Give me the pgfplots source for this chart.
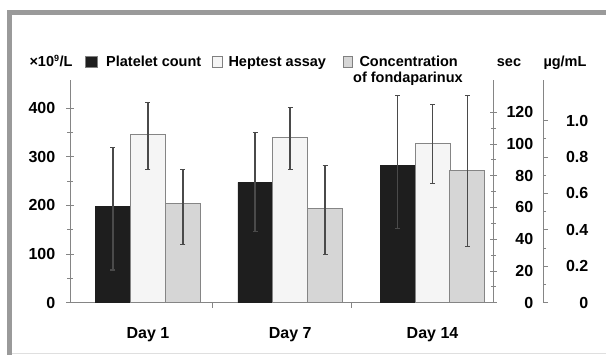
\documentclass[border=0pt]{standalone}
\usepackage{fontspec}
\setmainfont{Liberation Sans}
\usepackage{pgfplots}
\pgfplotsset{compat=1.18}
\definecolor{framegray}{HTML}{9A9A9A}
\definecolor{axgray}{HTML}{858585}
\definecolor{errgray}{HTML}{4A4A4A}
\definecolor{barblack}{HTML}{1E1E1E}
\definecolor{heplight}{HTML}{F5F5F5}
\definecolor{fondgray}{HTML}{D6D6D6}
\newcommand{\lgfont}{\fontsize{14.5}{14.5}\selectfont\bfseries}
\pgfplotsset{
  base/.style={
    scale only axis, width=423pt, height=222.7pt,
    at={(70pt,52.3pt)}, anchor=south west,
    xmin=0.452, xmax=3.425, ymin=0,
    axis line style={axgray, line width=1pt},
    tick style={axgray, line width=0.8pt},
    tick align=center, major tick length=7pt, minor tick length=5pt,
    ticklabel style={font=\fontsize{16}{16}\selectfont\bfseries},
    /pgf/number format/assume math mode=true,
    ybar, bar width=35pt,
    error bars/y dir=both, error bars/y explicit,
    error bars/error bar style={errgray, line width=1.8pt},
    error bars/error mark options={rotate=90, errgray, line width=1.2pt, mark size=2.5pt},
  }
}
\begin{document}
\begin{tikzpicture}[x=1pt,y=1pt]
\useasboundingbox (0,0) rectangle (606,355);
\fill[white] (0,0) rectangle (606,355);
\fill[framegray] (7,340) rectangle (606,345);
\fill[framegray] (7,0) rectangle (12,345);
\draw[gray!25, line width=0.8pt] (12,2) -- (606,2);

% Platelet count (left axis)
\begin{axis}[base,
  axis x line*=bottom, axis y line*=left,
  ymax=457.5, ytick={0,100,...,400}, minor y tick num=1,
  xtick={1,2,3}, xticklabels={Day 1, Day 7, Day 14},
  major x tick style={draw=none},
  minor xtick={1.45,2.43},
  minor x tick style={axgray, line width=0.8pt},
  xticklabel style={anchor=base, yshift=-29pt},
  yticklabel style={xshift=-7.7pt},
]
\addplot[fill=barblack, draw=barblack, bar shift=-35pt]
  coordinates {(1,198) += (0,120) -= (0,131)
               (2,247) += (0,103) -= (0,101)
               (3,282) += (0,143) -= (0,129)};
\end{axis}

% Heptest assay (sec)
\begin{axis}[base,
  axis x line=none, xtick=\empty,
  axis y line*=right,
  ymax=140.3, ytick={0,20,...,120}, minor y tick num=1,
  yticklabel style={anchor=east, xshift=40.3pt},
]
\addplot[fill=heplight, draw=axgray, line width=1pt, bar shift=0pt]
  coordinates {(1,106) += (0,20) -= (0,22)
               (2,104) += (0,19) -= (0,20)
               (3,100) += (0,25) -= (0,25)};
\end{axis}

% Concentration of fondaparinux (ug/mL)
\begin{axis}[base, width=473pt, xmax=3.777,
  axis x line=none, xtick=\empty,
  axis y line*=right,
  ymax=1.2236, ytick={0,0.2,0.4,0.6,0.8,1.0},
  yticklabels={0,0.2,0.4,0.6,0.8,1.0},
  minor y tick num=1,
  tick align=outside, major tick length=5pt, minor tick length=3pt,
  yticklabel style={anchor=east, xshift=43.8pt},
]
\addplot[fill=fondgray, draw=axgray, line width=1pt, bar shift=35pt]
  coordinates {(1,0.546) += (0,0.187) -= (0,0.226)
               (2,0.519) += (0,0.234) -= (0,0.253)
               (3,0.729) += (0,0.411) -= (0,0.421)};
\end{axis}

% legend and unit labels
\node[anchor=base west, inner sep=0, font=\lgfont] at (29.3,288.3) {×10\textsuperscript{\fontsize{9}{9}\selectfont 9}/L};
\filldraw[fill=barblack, draw=gray, line width=0.6pt] (85,288) rectangle (97,298.3);
\node[anchor=base west, inner sep=0, font=\lgfont] at (106,288.3) {Platelet count};
\filldraw[fill=heplight, draw=gray, line width=0.6pt] (212,288) rectangle (222,298.3);
\node[anchor=base west, inner sep=0, font=\lgfont] at (228.3,288.3) {Heptest assay};
\filldraw[fill=fondgray, draw=gray, line width=0.6pt] (343.3,288) rectangle (352.7,298.3);
\node[anchor=base west, inner sep=0, font=\lgfont] at (359.3,288.3) {Concentration};
\node[anchor=base west, inner sep=0, font=\lgfont] at (353,272.7) {of fondaparinux};
\node[anchor=base west, inner sep=0, font=\lgfont] at (496.7,288.3) {sec};
\node[anchor=base west, inner sep=0, font=\lgfont] at (543.3,288.3) {µg/mL};
\end{tikzpicture}
\end{document}
